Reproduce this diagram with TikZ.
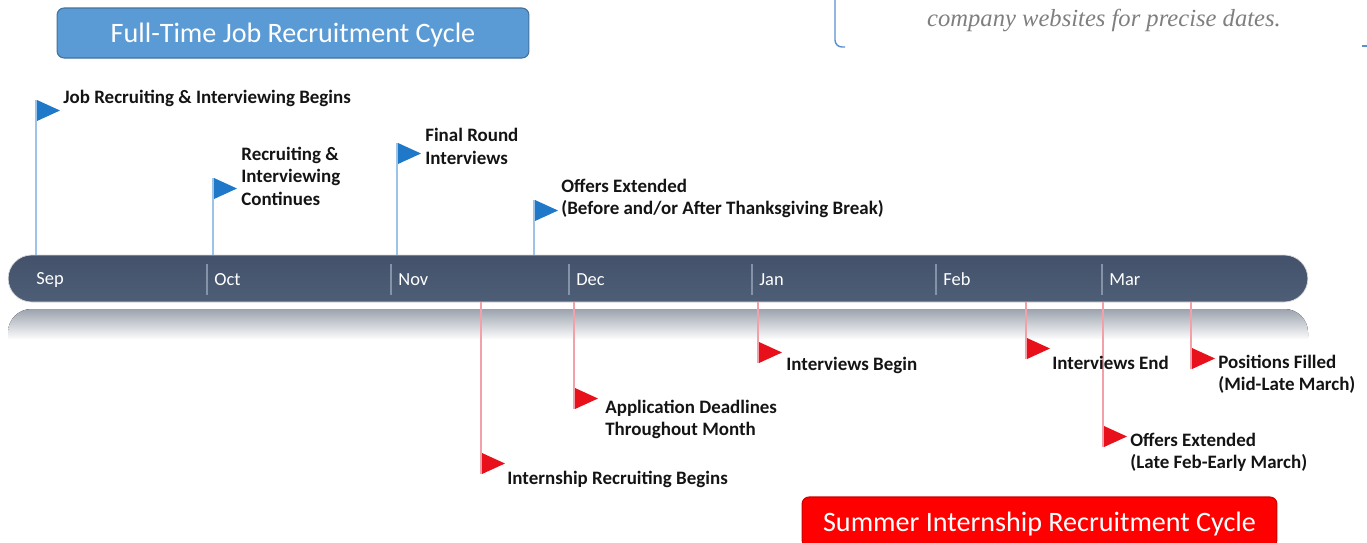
\documentclass[tikz,border=0pt]{standalone}
\usepackage{fontspec}
\setmainfont{Carlito}
\newfontfamily\notefont{Liberation Serif}
\usetikzlibrary{shapes.misc,calc}

\definecolor{barcol}{HTML}{4E5E77}
\definecolor{bartop}{HTML}{43526A}
\definecolor{sepcol}{HTML}{8593A8}
\definecolor{ftblue}{HTML}{5B9BD5}
\definecolor{ftblueline}{HTML}{41719C}
\definecolor{flagblue}{HTML}{1F78C8}
\definecolor{poleblue}{HTML}{9DC3E6}
\definecolor{flagred}{HTML}{E8101A}
\definecolor{polered}{HTML}{F4A0A8}
\definecolor{notegray}{HTML}{7F7F7F}
\definecolor{noteline}{HTML}{5B8FD0}
\definecolor{labelcol}{HTML}{141414}
\definecolor{reflgray}{HTML}{9CA3AE}

\tikzset{
  titlebox/.style={rounded corners=4pt, text=white, inner sep=0pt, text depth=0pt,
    minimum height=1cm, font=\fontsize{16}{18}\selectfont},
  month/.style={anchor=west, text=white, inner sep=0pt,
    font=\fontsize{10.5}{12}\selectfont},
  monthsep/.style={draw=sepcol, line width=0.6pt},
  evlabel/.style={anchor=west, inner sep=0pt, align=left, text=labelcol,
    font=\fontsize{10.8}{12.75}\selectfont\bfseries},
  bluepole/.style={draw=poleblue, line width=0.8pt},
  redpole/.style={draw=polered, line width=0.8pt},
  blueflag/.style={fill=flagblue},
  redflag/.style={fill=flagred},
}

% flag on a pole: #1 name, #2 x, #3 top of flag, #4 pole style, #5 flag style,
% #6 end of the pole on the bar
\newcommand{\tlflag}[6]{%
  \coordinate (#1-top) at (#2,#3);
  \coordinate (#1-bot) at (#2,#3+21);
  \coordinate (#1-bar) at (#2,#6);
  \draw[#4] (#1-bar) -- (#1-top);
  \fill[#5] ($(#1-top)+(1,0)$) -- ++(23,10.5) -- ++(-23,10.5) -- cycle;
}

\begin{document}
\begin{tikzpicture}[x=0.02cm, y=-0.02cm]
\useasboundingbox (0,0) rectangle (1367,542);

% note box corner at the top right
\coordinate (note-a) at (835,-5);
\coordinate (note-b) at (835,47);
\coordinate (note-c) at (845,47);
\draw[noteline, line width=0.8pt, rounded corners=4pt] (note-a) -- (note-b) -- (note-c);
\coordinate (note-d) at (1362,46);
\coordinate (note-e) at (1367,46);
\draw[noteline, line width=0.8pt] (note-d) -- (note-e);
\node[text=notegray, inner sep=0pt, font=\notefont\itshape\fontsize{14}{16}\selectfont]
  (note) at (1104,20) {company websites for precise dates.};

% titles
\node[titlebox, fill=ftblue, draw=ftblueline, line width=0.6pt,
      minimum width=9.44cm] (fttitle) at (293,33) {Full-Time Job Recruitment Cycle};
\node[titlebox, fill=red, draw=red!80!black, line width=0.6pt,
      minimum width=9.5cm] (intitle) at (1039.5,522) {Summer Internship Recruitment Cycle};

% fading reflection under the bar
\begin{scope}
  \clip (0,309) rectangle (1367,338);
  \clip[rounded corners=13.3pt] (8,309) rectangle (1308,360);
  \fill[top color=reflgray, bottom color=white] (0,309) rectangle (1367,340);
\end{scope}

% timeline bar
\node[rounded rectangle, minimum width=26cm, minimum height=0.94cm, inner sep=0pt,
      top color=bartop, bottom color=barcol, draw=black!15, line width=0.4pt]
      (bar) at (658,278.5) {};

% months
\foreach \nm/\mx in {Sep/29, Oct/207, Nov/391, Dec/569, Jan/752, Feb/936, Mar/1102}{
  \node[month] (m-\nm) at (\mx+7,279.5) {\nm};
}
\foreach \mx in {207,391,569,752,936,1102}{
  \coordinate (s-a-\mx) at (\mx,264);
  \coordinate (s-b-\mx) at (\mx,295);
  \draw[monthsep] (s-a-\mx) -- (s-b-\mx);
}

% full-time events (above the bar)
\tlflag{f1}{36}{100}{bluepole}{blueflag}{255}
\tlflag{f2}{213}{178}{bluepole}{blueflag}{255}
\tlflag{f3}{397}{143}{bluepole}{blueflag}{255}
\tlflag{f4}{534}{200}{bluepole}{blueflag}{255}
\node[evlabel] (l-f1) at (63,98) {Job Recruiting \& Interviewing Begins};
\node[evlabel] (l-f2) at (241,176) {Recruiting \&\\Interviewing\\Continues};
\node[evlabel] (l-f3) at (425,146.5) {Final Round\\Interviews};
\node[evlabel] (l-f4) at (561,198.5) {Offers Extended\\(Before and/or After Thanksgiving Break)};

% internship events (below the bar)
\tlflag{i1}{481}{453}{redpole}{redflag}{302}
\tlflag{i2}{574}{388}{redpole}{redflag}{302}
\tlflag{i3}{758}{342}{redpole}{redflag}{302}
\tlflag{i4}{1026}{338}{redpole}{redflag}{302}
\tlflag{i5}{1103}{426}{redpole}{redflag}{302}
\tlflag{i6}{1191}{348}{redpole}{redflag}{302}
\draw[redpole] (i1-top) -- (i1-bot);
\draw[redpole] (i2-top) -- (i2-bot);
\draw[redpole] (i3-top) -- (i3-bot);
\draw[redpole] (i4-top) -- (i4-bot);
\draw[redpole] (i5-top) -- (i5-bot);
\draw[redpole] (i6-top) -- (i6-bot);
\node[evlabel] (l-i1) at (507,479) {Internship Recruiting Begins};
\node[evlabel] (l-i2) at (605,419.5) {Application Deadlines\\Throughout Month};
\node[evlabel] (l-i3) at (786,365) {Interviews Begin};
\node[evlabel] (l-i4) at (1052,363) {Interviews End};
\node[evlabel] (l-i5) at (1130,452.5) {Offers Extended\\(Late Feb-Early March)};
\node[evlabel] (l-i6) at (1218,374.5) {Positions Filled\\(Mid-Late March)};
\end{tikzpicture}
\end{document}
